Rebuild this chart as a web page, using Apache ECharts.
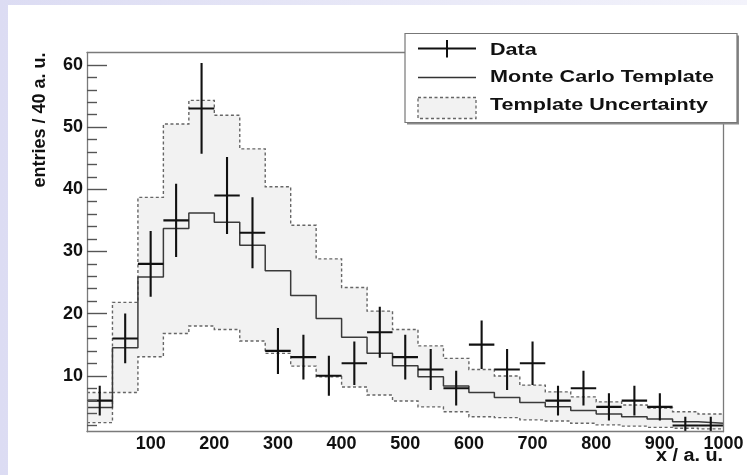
<!DOCTYPE html>
<html><head><meta charset="utf-8">
<script src="https://cdn.jsdelivr.net/npm/echarts@6/dist/echarts.min.js"></script>
<style>
html,body{margin:0;padding:0;}
body{width:747px;height:475px;background:linear-gradient(to right,#dcdcf3,#f3f3fb);overflow:hidden;}
#c{position:absolute;left:0;top:0;width:747px;height:475px;}
</style></head><body><div id="c"></div>
<script>
// ---- data ----
const binLow = [0,40,80,120,160,200,240,280,320,360,400,440,480,520,560,600,640,680,720,760,800,840,880,920,960];
const binWidth = 40;
const xMax = 1000;
const dataCounts = [6,16,28,35,53,39,33,14,13,10,12,17,13,11,8,15,11,12,6,8,5,6,5,2,2];
const dataErrors = [2.4,4.0,5.3,5.9,7.3,6.2,5.7,3.7,3.6,3.2,3.5,4.1,3.6,3.3,2.8,3.9,3.3,3.5,2.4,2.8,2.2,2.4,2.2,1.4,1.4];
const mcTemplate = [4.9,14.5,25.9,33.7,36.2,34.7,31.0,26.9,22.9,19.2,16.2,13.6,11.6,9.85,8.35,7.3,6.5,5.7,5.0,4.4,3.85,3.4,3.05,2.6,2.35];
const templateUpper = [7.3,21.8,38.7,50.5,54.3,51.9,46.5,40.4,34.2,28.8,24.2,20.4,17.45,14.8,12.8,11.0,9.95,8.5,7.4,6.6,5.8,5.3,4.8,4.2,3.85];
const templateLower = [2.46,7.3,13.05,16.8,18.0,17.45,15.6,13.6,11.55,9.85,8.2,6.9,5.95,5.0,4.2,3.4,3.26,2.9,2.73,2.35,2.1,1.9,1.7,1.55,1.45];
const xTickLabels = [100,200,300,400,500,600,700,800,900,1000];
const yMajorTicks = [10,20,30,40,50,60];
const yMinorTicks = [2,4,6,8,12,14,16,18,22,24,26,28,32,34,36,38,42,44,46,48,52,54,56,58];
const yMin = 1, yMax = 62;

const FONT = '"Liberation Sans", Arial, Helvetica, sans-serif';

const chart = echarts.init(document.getElementById('c'), null, {renderer:'canvas'});

function stepPoints(vals){
  const pts = [];
  for (let i=0;i<vals.length;i++) pts.push([binLow[i], vals[i]]);
  pts.push([xMax, vals[vals.length-1]]);
  return pts;
}

const axisGray = '#7a7a7a';
const LZ = 100;

const option = {
  backgroundColor: 'transparent',
  animation: false,
  grid: {left: 87, right: 23.5, top: 52.5, bottom: 43.3, outerBoundsMode: 'none', containLabel: false},
  xAxis: [
    {type:'value', min:0, max:xMax, interval:100, position:'bottom', z:5,
     axisLine:{show:true, lineStyle:{color:axisGray, width:1.3}},
     axisTick:{show:false}, splitLine:{show:false},
     axisLabel:{customValues: xTickLabels, formatter: v => String(v), fontSize:18, fontWeight:'bold', fontFamily:FONT, color:'#111', margin:3}},
    {type:'value', min:0, max:xMax, position:'top', z:5,
     axisLine:{show:true, lineStyle:{color:axisGray, width:1.3}},
     axisTick:{show:false}, axisLabel:{show:false}, splitLine:{show:false}}
  ],
  yAxis: [
    {type:'value', min:yMin, max:yMax, position:'left', z:5,
     axisLine:{show:true, lineStyle:{color:axisGray, width:1.3}},
     axisTick:{show:true, inside:true, length:20, customValues: yMajorTicks, lineStyle:{color:'#555', width:1.4}},
     axisLabel:{customValues: yMajorTicks, formatter: v => String(v), fontSize:18, fontWeight:'bold', fontFamily:FONT, color:'#111', margin:4},
     splitLine:{show:false}},
    {type:'value', min:yMin, max:yMax, position:'left', z:5,
     axisLine:{show:false},
     axisTick:{show:true, inside:true, length:10, customValues: yMinorTicks, lineStyle:{color:'#555', width:1.4}},
     axisLabel:{show:false}, splitLine:{show:false}},
    {type:'value', min:yMin, max:yMax, position:'right', z:5,
     axisLine:{show:true, lineStyle:{color:axisGray, width:1.3}},
     axisTick:{show:false}, axisLabel:{show:false}, splitLine:{show:false}}
  ],
  series: [
    { // template uncertainty band
      name:'Template Uncertainty', type:'custom', z:1, clip:true,
      xAxisIndex:0, yAxisIndex:0,
      data:[[0,0]],
      renderItem: function(params, api){
        const upPath = [], loPath = [];
        for (let i=0;i<binLow.length;i++){
          upPath.push(api.coord([binLow[i], templateUpper[i]]));
          upPath.push(api.coord([binLow[i]+binWidth, templateUpper[i]]));
          loPath.push(api.coord([binLow[i], templateLower[i]]));
          loPath.push(api.coord([binLow[i]+binWidth, templateLower[i]]));
        }
        const poly = upPath.concat(loPath.slice().reverse());
        return {type:'group', children:[
          {type:'polygon', shape:{points:poly}, style:{fill:'#f2f2f2', stroke:null}},
          {type:'polyline', shape:{points:upPath}, style:{fill:null, stroke:'#666', lineWidth:1.4, lineDash:[3,2.5]}},
          {type:'polyline', shape:{points:loPath}, style:{fill:null, stroke:'#666', lineWidth:1.4, lineDash:[3,2.5]}}
        ]};
      }
    },
    { // Monte Carlo template
      name:'Monte Carlo Template', type:'line', step:'end', z:2,
      showSymbol:false, symbol:'none',
      data: stepPoints(mcTemplate),
      lineStyle:{color:'#3a3a3a', width:1.5}
    },
    { // Data with errors
      name:'Data', type:'custom', z:3, clip:true,
      data: binLow.map((b,i)=>[b, dataCounts[i], dataErrors[i]]),
      encode:{x:0, y:1},
      renderItem: function(params, api){
        const x0 = api.value(0), v = api.value(1), e = api.value(2);
        const xc = x0 + binWidth/2;
        const pL = api.coord([x0, v]), pR = api.coord([x0+binWidth, v]);
        const pT = api.coord([xc, v+e]), pB = api.coord([xc, v-e]);
        const st = {stroke:'#111', lineWidth:2.1};
        return {type:'group', children:[
          {type:'line', shape:{x1:pL[0], y1:pL[1], x2:pR[0], y2:pR[1]}, style:st},
          {type:'line', shape:{x1:pT[0], y1:pT[1], x2:pB[0], y2:pB[1]}, style:st}
        ]};
      }
    }
  ],
  graphic: [
    {type:'rect', left:8, top:5, z:-10, silent:true, shape:{width:739, height:470}, style:{fill:'#ffffff'}},
    // y axis title
    {type:'text', x:40, y:52.5, rotation:Math.PI/2, z:10,
     style:{text:'entries / 40 a. u.', font:'bold 18px '+FONT, fill:'#111', align:'right', verticalAlign:'middle'}},
    // x axis title
    {type:'text', x:723, y:456, scaleX:1.1, z:10,
     style:{text:'x / a. u.', font:'bold 18px '+FONT, fill:'#111', align:'right', verticalAlign:'middle'}},
    // legend
    {type:'rect', z:LZ, shape:{x:407, y:35.5, width:332, height:89}, style:{fill:'#8a8a8a'}},
    {type:'rect', z:LZ+1, shape:{x:405, y:33.5, width:332, height:89}, style:{fill:'#fff', stroke:'#777', lineWidth:1.2}},
    {type:'line', z:LZ+2, shape:{x1:418, y1:48.5, x2:476, y2:48.5}, style:{stroke:'#111', lineWidth:2}},
    {type:'line', z:LZ+2, shape:{x1:447, y1:40, x2:447, y2:57.5}, style:{stroke:'#111', lineWidth:2}},
    {type:'line', z:LZ+2, shape:{x1:418, y1:77.5, x2:476, y2:77.5}, style:{stroke:'#333', lineWidth:1.3}},
    {type:'rect', z:LZ+2, shape:{x:418, y:97.5, width:58, height:21}, style:{fill:'#f2f2f2', stroke:'#666', lineWidth:1.3, lineDash:[3,2.5]}},
    {type:'text', z:LZ+2, x:490, y:50, scaleX:1.27, style:{text:'Data', font:'bold 17px '+FONT, fill:'#111', align:'left', verticalAlign:'middle'}},
    {type:'text', z:LZ+2, x:490, y:77.5, scaleX:1.27, style:{text:'Monte Carlo Template', font:'bold 17px '+FONT, fill:'#111', align:'left', verticalAlign:'middle'}},
    {type:'text', z:LZ+2, x:490, y:105, scaleX:1.27, style:{text:'Template Uncertainty', font:'bold 17px '+FONT, fill:'#111', align:'left', verticalAlign:'middle'}}
  ]
};
chart.setOption(option);
</script>
</body></html>
